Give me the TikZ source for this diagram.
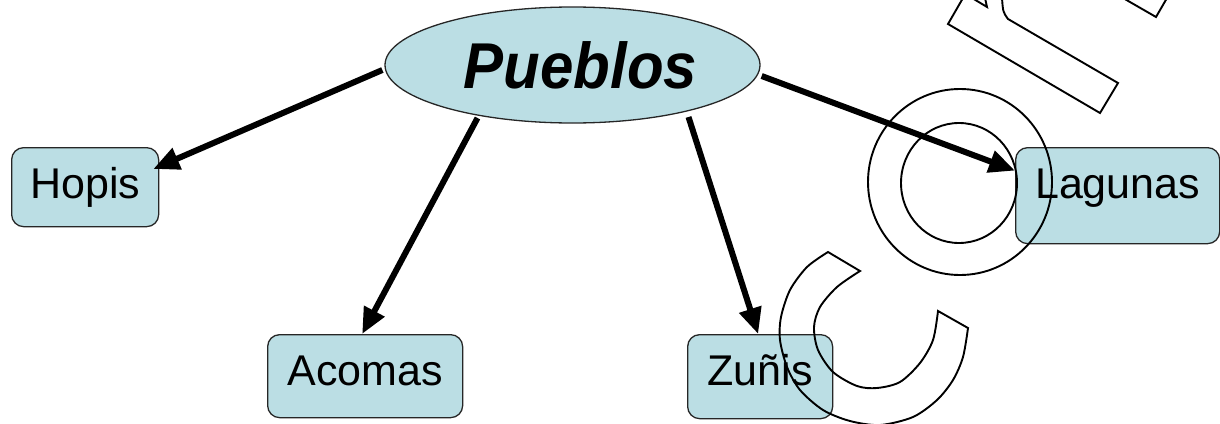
\documentclass[tikz,border=0pt]{standalone}
\usepackage{fontspec}
\setmainfont{Liberation Sans}
\usetikzlibrary{arrows.meta,calc,shapes.geometric}
\definecolor{boxfill}{RGB}{187,222,228}
\begin{document}
\begin{tikzpicture}[x=1pt,y=-1pt,
  box/.style={draw=black!85, line width=1.3pt, fill=boxfill, rounded corners=12pt,
    inner sep=0pt, text height=51pt, anchor=north west, font=\fontsize{43}{50}\selectfont},
  topnode/.style={ellipse, draw=black!85, line width=1.3pt, fill=boxfill, inner sep=0pt,
    minimum width=375pt, minimum height=116pt, text height=46pt, text depth=0pt,
    font=\fontsize{60}{66}\selectfont\bfseries\itshape},
  arr/.style={line width=6pt, -{Triangle[length=26pt,width=22pt]}},
  wm/.style={line width=1.9pt, black, line join=miter}]
\useasboundingbox (0,0) rectangle (1220,423);

\node[box, minimum width=147pt, text depth=28pt] (hopis) at (11,147) {Hopis};
\node[box, minimum width=195pt, text depth=32pt] (acomas) at (267,334) {Acomas};
\node[box, minimum width=145pt, text depth=33pt] (zunis) at (687,334) {Zuñis};
\node[box, minimum width=204pt, text depth=45pt] (lagunas) at (1015,147) {Lagunas};
\node[topnode] (pueblos) at (572.5,65) {\hspace*{16pt}\scalebox{1}[1.08]{Pueblos}};

\draw[arr] ($(pueblos.west)+(-2,5)$) -- ($(hopis.north east)+(-6,22)$);
\draw[arr] ($(pueblos.center)+(-95,53)$) -- ($(acomas.north)+(-3,0)$);
\draw[arr] ($(pueblos.center)+(116,52)$) -- ($(zunis.north)+(-2,0)$);
\draw[arr] ($(pueblos.east)+(1,11)$) -- ($(lagunas.west)+(0,-25)$);

\begin{scope}
\clip (0,0) rectangle (1220,423);
% ring (o)
\draw[wm] (960,182) ellipse [x radius=92, y radius=93];
\draw[wm] (959,183) ellipse [x radius=58, y radius=60];
% C
\draw[wm] plot[smooth] coordinates {(828,252) (807,267) (790,290) (781,317) (780,340)
  (787,367) (800,390) (823,410) (850,421) (880,425) (913,417) (937,400) (953,380)
  (963,357) (968,328)}
  -- plot[smooth] coordinates {(938,311) (933,340) (920,363) (900,382) (877,388)
  (857,386) (833,372) (818,350) (814,327) (820,307) (837,287) (860,271)} -- cycle;
% r
\draw[wm] (963,-2) -- (948,24) -- (1100,113) -- (1118,83) -- (1008,19)
  .. controls (1003,12) .. (1002,-2);
\draw[wm] (972,-2) -- (987,7) -- (985,-2);
\draw[wm] (1123,-2) -- (1156,17) -- (1167,-2);
\end{scope}
\end{tikzpicture}
\end{document}
